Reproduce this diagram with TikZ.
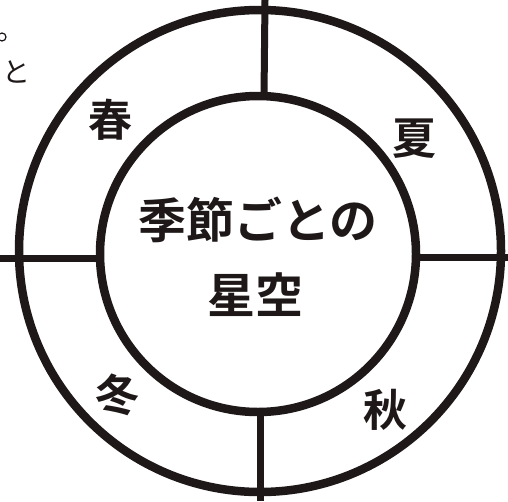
\documentclass[tikz,border=0pt]{standalone}
\usepackage{fontspec}
\newfontfamily\cjk{Noto Sans CJK JP}[BoldFont={Noto Sans CJK JP Bold}]
\definecolor{ink}{RGB}{30,24,24}
\begin{document}
\begin{tikzpicture}[x=1pt,y=-1pt,
  ring/.style={draw=ink,line width=8.5pt},
  spoke/.style={draw=ink,line width=7pt},
  season/.style={font=\cjk\bfseries\fontsize{44}{44}\selectfont,text=ink,inner sep=0pt},
  title/.style={font=\cjk\bfseries\fontsize{48}{48}\selectfont,text=ink,inner sep=0pt}]
\useasboundingbox (0,0) rectangle (508,501);
\fill[white] (0,0) rectangle (508,501);
\coordinate (oc) at (260,251);
\coordinate (ic) at (258,254);
\draw[ring] (oc) circle (241);
\draw[ring] (ic) circle (158);
\coordinate (t0) at (265,0);   \coordinate (t1) at (264,96);
\coordinate (b0) at (260,501); \coordinate (b1) at (260,412);
\coordinate (l0) at (0,258);   \coordinate (l1) at (101,258);
\coordinate (r0) at (508,257); \coordinate (r1) at (415,257);
\draw[spoke] (t0) -- (t1);
\draw[spoke] (b0) -- (b1);
\draw[spoke] (l0) -- (l1);
\draw[spoke] (r0) -- (r1);
\node[season] (spring) at (110,120) {春};
\node[season] (summer) at (414,139) {夏};
\node[season] (winter) at (117,395) {冬};
\node[season] (autumn) at (385,410) {秋};
\node[title] (t1n) at (258,220) {季節ごとの};
\node[title] (t2n) at (255,295) {星空};
\node[font=\cjk\fontsize{28}{28}\selectfont,text=ink,inner sep=0pt] (to) at (16,72) {と};
\draw[ink,line width=1.2pt] (2,37) circle (4);
\end{tikzpicture}
\end{document}
